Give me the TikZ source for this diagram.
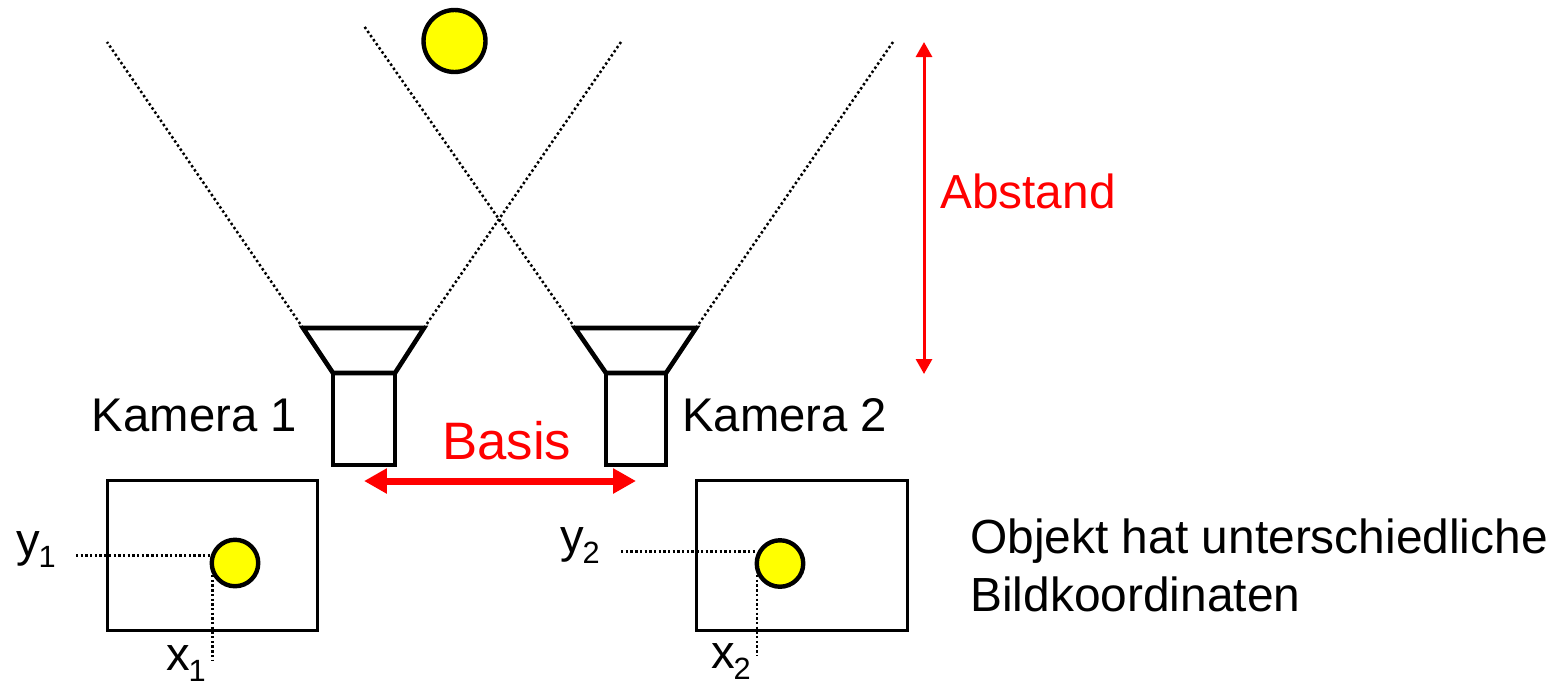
\documentclass[tikz,border=0pt]{standalone}
\usepackage{fontspec}
\setmainfont{Liberation Sans}
\usetikzlibrary{arrows.meta, positioning}
\definecolor{objyellow}{RGB}{255,255,0}
\definecolor{markred}{RGB}{255,0,0}
\newcommand{\imgidx}[1]{\kern-0.8pt\raisebox{-6.6pt}{\fontsize{17.5}{18}\selectfont #1}}

\begin{document}
\begin{tikzpicture}[
    x=0.02cm, y=-0.02cm,
    caption/.style={anchor=base west, inner sep=0pt, font=\fontsize{26.9}{33}\selectfont},
    redcaption/.style={caption, text=markred},
    object/.style={circle, draw=black, line width=4.4*0.569pt, fill=objyellow, inner sep=0pt, minimum size=46.5*0.569pt},
    sensor/.style={rectangle, draw=black, line width=3*0.569pt, inner sep=0pt, minimum width=211*0.569pt, minimum height=151*0.569pt},
    housing/.style={draw=black, line width=4.6*0.569pt, line join=miter},
    sight/.style={line width=2.5*0.569pt, dash pattern=on 2.4*0.569pt off 2.6*0.569pt},
    guide/.style={line width=2.5*0.569pt, dash pattern=on 2.4*0.569pt off 2.3*0.569pt},
    depthline/.style={{Triangle[length=15*0.569pt, width=16*0.569pt]}-{Triangle[length=15*0.569pt, width=16*0.569pt]}, markred, line width=3*0.569pt},
    basisline/.style={{Triangle[length=23*0.569pt, width=24*0.569pt]}-{Triangle[length=23*0.569pt, width=24*0.569pt]}, markred, line width=7*0.569pt}
]
    \useasboundingbox (0, 0) rectangle (1564, 680);

    % Object
    \node[object, minimum size=62*0.569pt] (target) at (454.5, 41) {};

    % Cameras
    \coordinate (cam1tl) at (303, 328);
    \coordinate (cam1tr) at (424, 328);
    \coordinate (cam1ml) at (333, 373);
    \coordinate (cam1mr) at (395, 373);
    \coordinate (cam1bl) at (333, 465);
    \coordinate (cam1br) at (395, 465);
    \coordinate (cam2tl) at (575, 328);
    \coordinate (cam2tr) at (696, 328);
    \coordinate (cam2ml) at (606, 373);
    \coordinate (cam2mr) at (666, 373);
    \coordinate (cam2bl) at (606, 465);
    \coordinate (cam2br) at (666, 465);
    \draw[housing] (cam1tl) -- (cam1tr) -- (cam1mr) -- (cam1ml) -- cycle;
    \draw[housing] (cam1ml) -- (cam1mr) -- (cam1br) -- (cam1bl) -- cycle;
    \draw[housing] (cam2tl) -- (cam2tr) -- (cam2mr) -- (cam2ml) -- cycle;
    \draw[housing] (cam2ml) -- (cam2mr) -- (cam2br) -- (cam2bl) -- cycle;

    % Fields of view
    \coordinate (view1l) at (107, 42);
    \coordinate (view1r) at (621, 42);
    \coordinate (view2l) at (364, 26);
    \coordinate (view2r) at (893, 42);
    \draw[sight] (cam1tl) -- (view1l);
    \draw[sight] (cam1tr) -- (view1r);
    \draw[sight] (cam2tl) -- (view2l);
    \draw[sight] (cam2tr) -- (view2r);

    % Image planes
    \node[sensor] (image1) at (212.5, 555.5) {};
    \node[sensor] (image2) at (802, 555.5) {};
    \node[object] (spot1) at (235, 563) {};
    \node[object] (spot2) at (780, 563.5) {};

    % Image coordinates
    \coordinate (y1start) at (76, 555.5);
    \coordinate (y1end) at (212, 555.5);
    \coordinate (x1start) at (212.5, 575);
    \coordinate (x1end) at (212.5, 660);
    \coordinate (y2start) at (621, 551.5);
    \coordinate (y2end) at (757, 551.5);
    \coordinate (x2start) at (757, 575);
    \coordinate (x2end) at (757, 656);
    \draw[guide] (y1start) -- (y1end);
    \draw[guide] (x1start) -- (x1end);
    \draw[guide] (y2start) -- (y2end);
    \draw[guide] (x2start) -- (x2end);

    % Measures
    \coordinate (basisl) at (364, 481);
    \coordinate (basisr) at (636, 481);
    \coordinate (abstandt) at (924, 42);
    \coordinate (abstandb) at (924, 374);
    \draw[basisline] (basisl) -- (basisr);
    \draw[depthline] (abstandt) -- (abstandb);

    % Labels
    \node[caption] (kamera1) at (91.5, 431) {Kamera 1};
    \node[caption] (kamera2) at (682, 431) {Kamera 2};
    \node[redcaption, font=\fontsize{30}{33}\selectfont] (basis) at (442, 459) {Basis};
    \node[redcaption, font=\fontsize{27.2}{33}\selectfont] (abstand) at (940, 208) {Abstand};
    \node[caption] (y1) at (16, 556) {y\imgidx{1}};
    \node[caption] (x1) at (166, 670) {x\imgidx{1}};
    \node[caption] (y2) at (560, 552) {y\imgidx{2}};
    \node[caption] (x2) at (711, 668) {x\imgidx{2}};
    \node[caption, font=\fontsize{27.25}{33}\selectfont] (note1) at (970, 553) {Objekt hat unterschiedliche};
    \node[caption, font=\fontsize{27.25}{33}\selectfont] (note2) at (970, 611) {Bildkoordinaten};
\end{tikzpicture}
\end{document}
